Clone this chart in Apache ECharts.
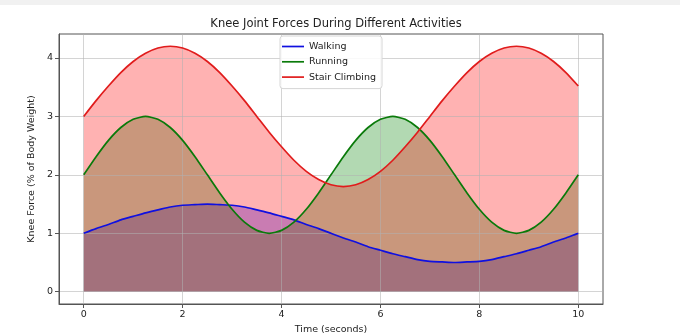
<!DOCTYPE html>
<html>
<head>
<meta charset="utf-8">
<script src="https://cdn.jsdelivr.net/npm/echarts@6/dist/echarts.min.js"></script>
<style>
  html, body { margin: 0; padding: 0; background: #fff; }
  #chart { width: 680px; height: 335px; }
</style>
</head>
<body>
<div id="chart"></div>
<script>
// Time samples (seconds)
const times = [0, 0.25, 0.5, 0.75, 1, 1.25, 1.5, 1.75, 2, 2.25, 2.5, 2.75, 3, 3.25, 3.5, 3.75, 4, 4.25, 4.5, 4.75,
  5, 5.25, 5.5, 5.75, 6, 6.25, 6.5, 6.75, 7, 7.25, 7.5, 7.75, 8, 8.25, 8.5, 8.75, 9, 9.25, 9.5, 9.75, 10];

// Knee force (% of body weight) per activity
const walking = [1.00, 1.08, 1.15, 1.23, 1.29, 1.35, 1.40, 1.45, 1.48, 1.49, 1.50, 1.49, 1.48, 1.45, 1.40, 1.35,
  1.29, 1.23, 1.15, 1.08, 1.00, 0.92, 0.85, 0.77, 0.71, 0.65, 0.60, 0.55, 0.52, 0.51, 0.50, 0.51, 0.52, 0.55,
  0.60, 0.65, 0.71, 0.77, 0.85, 0.92, 1.00];
const running = [2.00, 2.31, 2.59, 2.81, 2.95, 3.00, 2.95, 2.81, 2.59, 2.31, 2.00, 1.69, 1.41, 1.19, 1.05, 1.00,
  1.05, 1.19, 1.41, 1.69, 2.00, 2.31, 2.59, 2.81, 2.95, 3.00, 2.95, 2.81, 2.59, 2.31, 2.00, 1.69, 1.41, 1.19,
  1.05, 1.00, 1.05, 1.19, 1.41, 1.69, 2.00];
const stairs = [3.00, 3.27, 3.52, 3.75, 3.94, 4.08, 4.17, 4.20, 4.17, 4.08, 3.94, 3.75, 3.52, 3.27, 3.00, 2.73,
  2.48, 2.25, 2.06, 1.92, 1.83, 1.80, 1.83, 1.92, 2.06, 2.25, 2.48, 2.73, 3.00, 3.27, 3.52, 3.75, 3.94, 4.08,
  4.17, 4.20, 4.17, 4.08, 3.94, 3.75, 3.52];

const activities = ['Walking', 'Running', 'Stair Climbing'];
const fillColors = ['#0000ff', '#008000', '#ff0000'];
const lineColors = ['#1010e0', '#0a7a0a', '#e01c1c'];
const xTicks = [0, 2, 4, 6, 8, 10];
const yTicks = [0, 1, 2, 3, 4];

const FONT = 'DejaVu Sans';
const pairs = (ys) => times.map((t, i) => [t, ys[i]]);
const values = [walking, running, stairs];

const series = [];
// translucent fills, drawn beneath the grid lines
values.forEach((ys, i) => {
  series.push({
    name: activities[i] + ' fill',
    type: 'line',
    z: 1,
    data: pairs(ys),
    showSymbol: false,
    smooth: 0.2,
    silent: true,
    lineStyle: { width: 0, opacity: 0 },
    itemStyle: { color: fillColors[i] },
    areaStyle: { color: fillColors[i], opacity: 0.3, origin: 'auto' }
  });
});
// outlines, drawn above the grid lines
values.forEach((ys, i) => {
  series.push({
    name: activities[i],
    type: 'line',
    z: 3,
    data: pairs(ys),
    showSymbol: false,
    smooth: 0.2,
    itemStyle: { color: lineColors[i] },
    lineStyle: { color: lineColors[i], width: 1.7 }
  });
});

const chart = echarts.init(document.getElementById('chart'), null, { renderer: 'canvas' });
chart.setOption({
  animation: false,
  backgroundColor: '#ffffff',
  graphic: [
    { type: 'rect', left: 0, top: 0, shape: { width: 680, height: 5 }, style: { fill: '#f1f1f1' } }
  ],
  title: {
    text: 'Knee Joint Forces During Different Activities',
    left: 331, top: 13, textAlign: 'center',
    textStyle: { fontFamily: FONT, fontSize: 11.5, fontWeight: 'normal', color: '#222' }
  },
  legend: {
    data: activities,
    orient: 'vertical',
    left: 280, top: 36,
    icon: 'rect',
    itemWidth: 22, itemHeight: 1.7, itemGap: 2.3,
    padding: [4, 6, 5, 2],
    backgroundColor: 'rgba(255,255,255,0.85)',
    borderColor: '#d6d6d6', borderWidth: 1, borderRadius: 3,
    textStyle: { fontFamily: FONT, fontSize: 9.5, color: '#222', lineHeight: 13 }
  },
  grid: {
    left: 59, right: 77, top: 34, bottom: 31,
    outerBoundsMode: 'none',
    show: true, borderColor: '#555', borderWidth: 1, backgroundColor: 'transparent'
  },
  xAxis: {
    type: 'value', min: -0.5, max: 10.5, z: 2,
    name: 'Time (seconds)', nameLocation: 'middle', nameGap: 19,
    nameTextStyle: { fontFamily: FONT, fontSize: 9.5, color: '#222' },
    axisLine: { show: true, onZero: false, lineStyle: { color: '#555' } },
    axisTick: { show: true, length: 4, customValues: xTicks, lineStyle: { color: '#555' } },
    axisLabel: { customValues: xTicks, fontFamily: FONT, fontSize: 9.5, color: '#222', margin: 6 },
    splitLine: { show: true, lineStyle: { color: '#b0b0b0', opacity: 0.55, width: 1 } }
  },
  yAxis: {
    type: 'value', min: -0.21, max: 4.41, z: 2,
    name: 'Knee Force (% of Body Weight)', nameLocation: 'middle', nameGap: 17,
    nameTextStyle: { fontFamily: FONT, fontSize: 9.5, color: '#222' },
    axisLine: { show: true, onZero: false, lineStyle: { color: '#555' } },
    axisTick: { show: true, length: 4, customValues: yTicks, lineStyle: { color: '#555' } },
    axisLabel: { customValues: yTicks, fontFamily: FONT, fontSize: 9.5, color: '#222', margin: 6 },
    splitLine: { show: true, lineStyle: { color: '#b0b0b0', opacity: 0.55, width: 1 } }
  },
  series: series
});
</script>
</body>
</html>
